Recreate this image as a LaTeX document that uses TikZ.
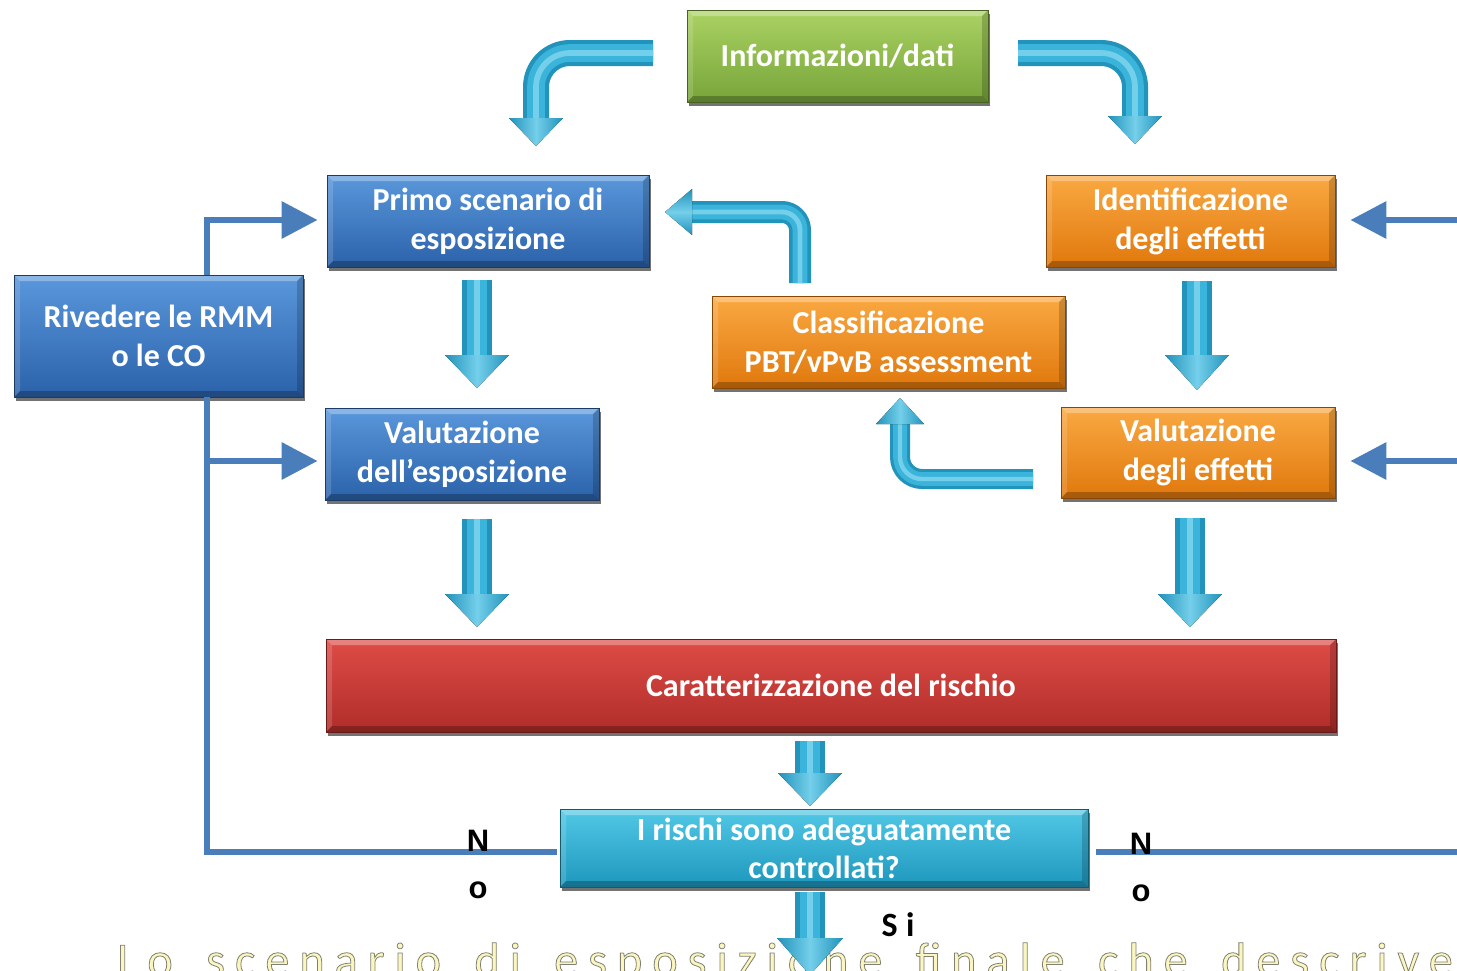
\documentclass[tikz,border=0pt]{standalone}
\usepackage{fontspec}
\setmainfont{Carlito}
\newfontfamily\labelfont{Liberation Sans}
\newfontfamily\closingfont{Carlito}[LetterSpace=21,WordSpace=1.6]
\usetikzlibrary{calc,arrows.meta,shadows}

% box fills (top / bottom of the gradient)
\definecolor{bluetop}{HTML}{5A97DB}
\definecolor{bluebot}{HTML}{2B62AA}
\definecolor{orgtop}{HTML}{FAA943}
\definecolor{orgbot}{HTML}{E0780C}
\definecolor{grntop}{HTML}{ABD263}
\definecolor{grnbot}{HTML}{77A43A}
\definecolor{redtop}{HTML}{DE4C47}
\definecolor{redbot}{HTML}{B02D29}
\definecolor{cyntop}{HTML}{52C8E6}
\definecolor{cynbot}{HTML}{1D97BD}
% thin feedback lines
\definecolor{linkblue}{HTML}{4A7EBB}
% 3D tube arrows
\definecolor{tubeD}{HTML}{2293BB}
\definecolor{tubeM}{HTML}{3AB4DA}
\definecolor{tubeL}{HTML}{74CFEA}
\definecolor{paleyel}{HTML}{FBF6C0}

% outlined glyphs: fill in the current colour, stroke in grey
\newcommand\outlinedtext[1]{%
  \special{pdf:literal direct 2 Tr 0.8 w 0.5 0.5 0.45 RG}#1\special{pdf:literal direct 0 Tr 0.4 w}}

\tikzset{
  stepbox/.style 2 args={rectangle, inner sep=0pt, top color=#1, bottom color=#2,
    draw=#2!60!black, line width=0.8pt, text=white, align=center,
    font=\bfseries\fontsize{32}{39}\selectfont,
    drop shadow={shadow xshift=1.5pt, shadow yshift=-3.5pt, fill=black, opacity=.55},
    path picture={
      \fill[white,opacity=.30] (path picture bounding box.north west) -- (path picture bounding box.north east)
        -- ([shift={(-6pt,-6pt)}]path picture bounding box.north east) -- ([shift={(6pt,-6pt)}]path picture bounding box.north west) -- cycle;
      \fill[white,opacity=.15] (path picture bounding box.north west) -- (path picture bounding box.south west)
        -- ([shift={(6pt,6pt)}]path picture bounding box.south west) -- ([shift={(6pt,-6pt)}]path picture bounding box.north west) -- cycle;
      \fill[black,opacity=.18] (path picture bounding box.north east) -- (path picture bounding box.south east)
        -- ([shift={(-6pt,6pt)}]path picture bounding box.south east) -- ([shift={(-6pt,-6pt)}]path picture bounding box.north east) -- cycle;
      \fill[black,opacity=.25] (path picture bounding box.south west) -- (path picture bounding box.south east)
        -- ([shift={(-6pt,6pt)}]path picture bounding box.south east) -- ([shift={(6pt,6pt)}]path picture bounding box.south west) -- cycle;
    }},
  link/.style={draw=linkblue, line width=6.5pt},
  linktip/.style={-{Triangle[length=36pt,width=36pt]}},
  tube/.style={draw=tubeD, line width=#1, line join=round,
    postaction={draw=tubeM, line width=#1*0.68},
    postaction={draw=tubeL, line width=#1*0.22}},
  vhead/.style={left color=tubeD, right color=tubeD, middle color=tubeL},
  hhead/.style={top color=tubeD, bottom color=tubeD, middle color=tubeL},
  nolabel/.style={font=\labelfont\bfseries\fontsize{31}{47}\selectfont, align=center, inner sep=0pt},
}

\begin{document}
\begin{tikzpicture}[x=1pt,y=-1pt]
\useasboundingbox (0,0) rectangle (1457,970);
\clip (0,0) rectangle (1457,970);
\fill[white] (0,0) rectangle (1457,970);

% ---- closing sentence (partly below the frame)
\node[anchor=base west, inner sep=0pt, text=paleyel,
      font=\closingfont\fontsize{48}{54}\selectfont] (final) at (117,976)
  {\outlinedtext{Lo scenario di esposizione finale che descrive}};

% ---- boxes
\node[stepbox={grntop}{grnbot}, minimum width=301, minimum height=92] (info) at (837.5,56) {Informazioni/dati};
\node[stepbox={bluetop}{bluebot}, minimum width=322, minimum height=92] (primo) at (488,221) {Primo scenario di\\esposizione};
\node[stepbox={orgtop}{orgbot}, minimum width=289, minimum height=92] (ident) at (1190.5,221) {Identificazione\\degli effetti};
\node[stepbox={bluetop}{bluebot}, minimum width=289, minimum height=122] (riv) at (158.5,336) {Rivedere le RMM\\o le CO};
\node[stepbox={orgtop}{orgbot}, minimum width=353, minimum height=92] (class) at (888.5,342) {Classificazione\\PBT/vPvB assessment};
\node[stepbox={bluetop}{bluebot}, minimum width=274, minimum height=92] (valesp) at (462,454) {Valutazione\\dell’esposizione};
\node[stepbox={orgtop}{orgbot}, minimum width=274, minimum height=91] (valeff) at (1198,452.5) {Valutazione\\degli effetti};
\node[stepbox={redtop}{redbot}, minimum width=1010, minimum height=93] (car) at (831,685.5) {Caratterizzazione del rischio};
\node[stepbox={cyntop}{cynbot}, minimum width=528, minimum height=78,
      font=\bfseries\fontsize{32}{38}\selectfont] (rischi) at (824,848) {I rischi sono adeguatamente\\controllati?};

% ---- feedback lines
\coordinate (rivtop) at (207,275);
\coordinate (rivbot) at (207,397);
\coordinate (tee) at (207,461);
\coordinate (rin) at (1457,220);
\coordinate (rin2) at (1457,461);
\coordinate (rout) at (1457,852);
\draw[link, linktip] (rivtop) |- ($(primo.west)+(-9,-1)$);
\draw[link] (rivbot) |- ($(rischi.west)+(-3,4)$);
\draw[link, linktip] (tee) -- ($(valesp.west)+(-7,7)$);
\draw[link] ($(rischi.east)+(8,4)$) -- (rout);
\draw[link, linktip] (rin) -- ($(ident.east)+(15,-1)$);
\draw[link, linktip] (rin2) -- ($(valeff.east)+(15,8.5)$);

\node[nolabel] (noleft) at (478,864) {N\\o};
\node[nolabel] (noright) at (1141,867) {N\\o};
\node[font=\bfseries\fontsize{34}{40}\selectfont\addfontfeature{LetterSpace=25}, inner sep=0pt] (si) at (898,925) {Si};

% ---- tube arrows
% from the data box down-left to the exposure branch
\coordinate (a1s) at (653,53);
\coordinate (a1e) at (536,120);
\draw[tube=26pt, rounded corners=34pt] (a1s) -- (536,53) -- (a1e);
\fill[vhead] (509,118) -- (563,118) -- (536,146) -- cycle;
% from the data box down-right to the effects branch
\coordinate (a2s) at (1018,53);
\coordinate (a2e) at (1135,118);
\draw[tube=26pt, rounded corners=34pt] (a2s) -- (1135,53) -- (a2e);
\fill[vhead] (1108,116) -- (1162,116) -- (1135,144) -- cycle;

% straight downward arrows
\coordinate (a3s) at (477,280);   \coordinate (a3e) at (477,357);
\draw[tube=30pt] (a3s) -- (a3e);
\fill[vhead] (445,355) -- (509,355) -- (477,388) -- cycle;
\coordinate (a4s) at (1197,281);  \coordinate (a4e) at (1197,357);
\draw[tube=30pt] (a4s) -- (a4e);
\fill[vhead] (1165,355) -- (1229,355) -- (1197,390) -- cycle;
\coordinate (a5s) at (477,519);   \coordinate (a5e) at (477,596);
\draw[tube=30pt] (a5s) -- (a5e);
\fill[vhead] (445,594) -- (509,594) -- (477,627) -- cycle;
\coordinate (a6s) at (1190,518);  \coordinate (a6e) at (1190,596);
\draw[tube=30pt] (a6s) -- (a6e);
\fill[vhead] (1158,594) -- (1222,594) -- (1190,627) -- cycle;
\coordinate (a7s) at (810,741);   \coordinate (a7e) at (810,775);
\draw[tube=30pt] (a7s) -- (a7e);
\fill[vhead] (778,773) -- (842,773) -- (810,806) -- cycle;
\coordinate (a8s) at (810,892);   \coordinate (a8e) at (810,940);
\draw[tube=30pt] (a8s) -- (a8e);
\fill[vhead] (777,938) -- (843,938) -- (810,975) -- cycle;

% classification back to the first scenario
\coordinate (a9s) at (800,283);
\coordinate (a9e) at (692,212);
\draw[tube=22pt, rounded corners=18pt] (a9s) -- (800,212) -- (a9e);
\fill[hhead] (692,189) -- (692,235) -- (665,212) -- cycle;
% effects assessment up to the classification
\coordinate (a10s) at (1033,479);
\coordinate (a10e) at (900,424);
\draw[tube=20pt, rounded corners=22pt] (a10s) -- (900,479) -- (a10e);
\fill[vhead] (876,424) -- (924,424) -- (900,398) -- cycle;
\end{tikzpicture}
\end{document}
